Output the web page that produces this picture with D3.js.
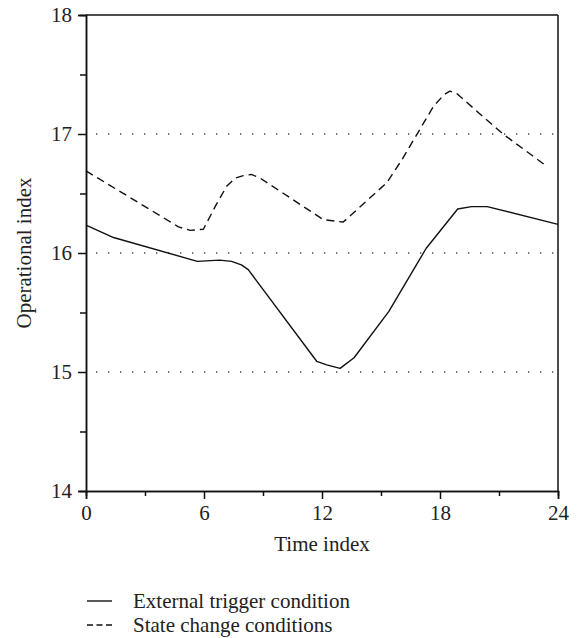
<!DOCTYPE html>
<html>
<head>
<meta charset="utf-8">
<script src="https://cdn.jsdelivr.net/npm/d3@7"></script>
<style>
  body { margin: 0; background: #fff; }
  svg text { font-family: "Liberation Serif", "Times New Roman", serif; fill: #222; }
</style>
</head>
<body>
<div id="chart"></div>
<script>
(function() {
    // series
    const triggerT = [0, 1.4, 5.66, 6.8, 7.4, 7.9, 8.25, 11.73, 12.24, 12.92, 13.63, 15.4, 17.3, 18.9, 19.6, 20.4, 24];
    const triggerV = [16.235, 16.13, 15.93, 15.94, 15.93, 15.9, 15.86, 15.09, 15.06, 15.03, 15.12, 15.51, 16.04, 16.37, 16.39, 16.39, 16.24];

    const stateT = [0, 4.7, 5.3, 5.97, 6.6, 7.15, 7.6, 8.0, 8.4, 8.85, 12.07, 13.08, 15.29, 16.05, 17.66, 18.2, 18.5, 18.85, 21.2, 23.42];
    const stateV = [16.69, 16.22, 16.19, 16.2, 16.4, 16.56, 16.63, 16.65, 16.66, 16.63, 16.28, 16.26, 16.59, 16.78, 17.23, 17.33, 17.36, 17.34, 17.0, 16.73];

    const xTicks = [0, 6, 12, 18, 24],
          xMinor = [3, 9, 15, 21],
          yTicks = [14, 15, 16, 17, 18],
          yMinor = [14.5, 15.5, 16.5, 17.5],
          gridVals = [15, 16, 17];

    const seriesNames = ['External trigger condition', 'State change conditions'];

    const width = 578,
          height = 638,
          left = 86, right = 558, top = 15, bottom = 491;

    const xScale = d3.scaleLinear().domain([0, 24]).range([left, right]);
    const yScale = d3.scaleLinear().domain([14, 18]).range([bottom, top]);

    const svg = d3.select('#chart')
        .append('svg')
        .attr('width', width)
        .attr('height', height);

    // dotted grid
    svg.selectAll('.grid')
        .data(gridVals)
        .enter().append('line')
        .attr('x1', left + 10).attr('x2', right)
        .attr('y1', d => yScale(d)).attr('y2', d => yScale(d))
        .attr('stroke', '#444')
        .attr('stroke-width', 1.3)
        .attr('stroke-dasharray', '1.3,10.7');

    // axes
    const xAxis = d3.axisBottom(xScale).tickValues(xTicks).tickSize(8).tickPadding(6).tickFormat(d3.format('d'));
    const xAxisMinor = d3.axisBottom(xScale).tickValues(xMinor).tickSize(5).tickFormat('');
    const yAxis = d3.axisLeft(yScale).tickValues(yTicks).tickSize(8).tickPadding(6).tickFormat(d3.format('d'));
    const yAxisMinor = d3.axisLeft(yScale).tickValues(yMinor).tickSize(6).tickFormat('');

    svg.append('g').attr('transform', `translate(0,${bottom})`).call(xAxisMinor);
    svg.append('g').attr('transform', `translate(0,${bottom})`).call(xAxis);
    svg.append('g').attr('transform', `translate(${left},0)`).call(yAxisMinor);
    svg.append('g').attr('transform', `translate(${left},0)`).call(yAxis);

    svg.selectAll('.domain, .tick line')
        .attr('stroke', '#111')
        .attr('stroke-width', 1.5);
    svg.selectAll('.tick text')
        .style('font-size', '21px')
        .style('font-family', '"Liberation Serif", serif')
        .attr('fill', '#222');

    // top and right border
    svg.append('line')
        .attr('x1', left).attr('x2', right)
        .attr('y1', top).attr('y2', top)
        .attr('stroke', '#111').attr('stroke-width', 1.5);
    svg.append('line')
        .attr('x1', right).attr('x2', right)
        .attr('y1', top).attr('y2', bottom)
        .attr('stroke', '#111').attr('stroke-width', 1.5);

    const line = d3.line()
        .x(d => xScale(d[0]))
        .y(d => yScale(d[1]));

    svg.append('path')
        .datum(d3.zip(triggerT, triggerV))
        .attr('d', line)
        .attr('fill', 'none')
        .attr('stroke', '#111')
        .attr('stroke-width', 1.4)
        .attr('stroke-linejoin', 'round');

    svg.append('path')
        .datum(d3.zip(stateT, stateV))
        .attr('d', line)
        .attr('fill', 'none')
        .attr('stroke', '#111')
        .attr('stroke-width', 1.4)
        .attr('stroke-linejoin', 'round')
        .attr('stroke-dasharray', '8,5');

    // axis titles
    svg.append('text')
        .attr('x', (left + right) / 2)
        .attr('y', 551)
        .attr('text-anchor', 'middle')
        .style('font-size', '21px')
        .text('Time index');

    svg.append('text')
        .attr('transform', `translate(31,${(top + bottom) / 2}) rotate(-90)`)
        .attr('text-anchor', 'middle')
        .style('font-size', '21px')
        .text('Operational index');

    // legend
    const legend = svg.selectAll('.legend')
        .data(seriesNames)
        .enter().append('g')
        .attr('transform', (d, i) => `translate(0,${601 + i * 24})`);

    legend.append('line')
        .attr('x1', 87).attr('x2', 112)
        .attr('y1', 0).attr('y2', 0)
        .attr('stroke', '#111')
        .attr('stroke-width', 1.4)
        .attr('stroke-dasharray', (d, i) => i === 0 ? null : '6,3.5');

    legend.append('text')
        .attr('x', 133)
        .attr('y', 7)
        .style('font-size', '21px')
        .text(d => d);
})();
</script>
</body>
</html>
